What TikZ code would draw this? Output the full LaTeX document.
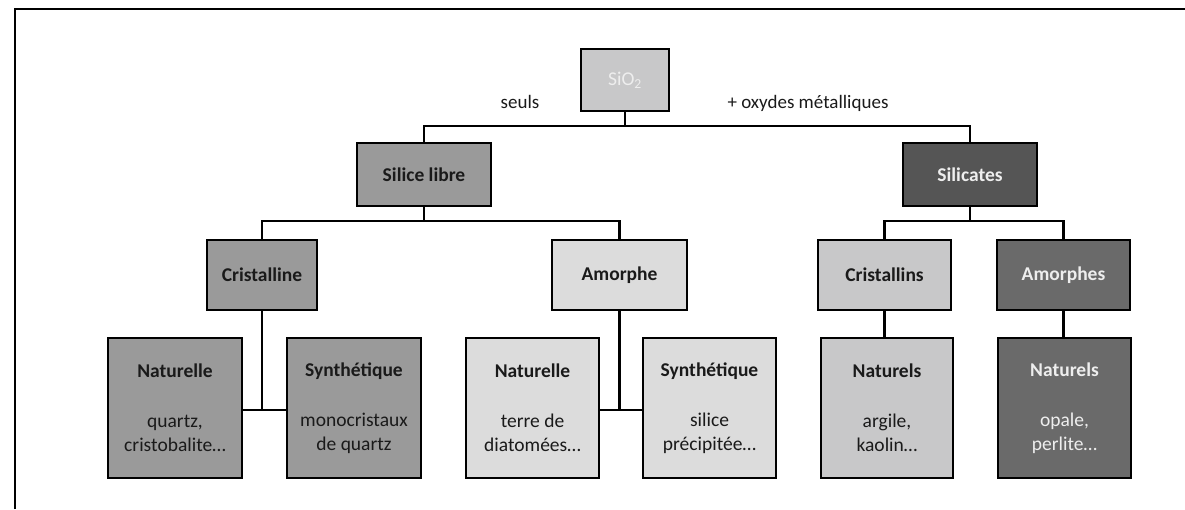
\documentclass[tikz,border=0pt]{standalone}
\usepackage{fontspec}
\setmainfont{Carlito}
\definecolor{inkdark}{HTML}{1A1A1A}
\definecolor{inklight}{HTML}{EEEEEE}
\definecolor{greyA}{HTML}{C8C8C9}
\definecolor{greyB}{HTML}{9A9A9A}
\definecolor{greyC}{HTML}{555555}
\definecolor{greyD}{HTML}{DCDCDC}
\definecolor{greyE}{HTML}{6A6A6A}
\tikzset{
  box/.style={draw=black, line width=2pt, rectangle, inner sep=0pt, align=center,
    text=inkdark, font=\fontsize{19.5}{24}\selectfont},
  top/.style={box, minimum width=134pt, minimum height=63pt},
  mid/.style={box, minimum width=134pt, minimum height=70pt},
  leaf/.style={box, minimum width=134pt, minimum height=140pt},
  link/.style={draw=black, line width=2.6pt},
  note/.style={text=inkdark, font=\fontsize{19}{24}\selectfont, inner sep=0pt, anchor=base},
}
\begin{document}
\begin{tikzpicture}[x=1pt, y=-1pt]
\useasboundingbox (0,0) rectangle (1185,509);
% frame
\draw[line width=2.6pt] (15,509) -- (15,9) -- (1185,9);

% root
\node[box, fill=greyA, text=inklight, minimum width=88pt, minimum height=62pt] (sio) at (625,80) {SiO\textsubscript{2}};
\node[note] (seuls) at (520,108) {seuls};
\node[note] (oxy) at (808,108) {+ oxydes métalliques};

% first level
\node[top, fill=greyB] (libre) at (424,174.5) {\textbf{Silice libre}};
\node[top, fill=greyC, text=inklight] (silicates) at (970,174.5) {\textbf{Silicates}};

% second level
\node[mid, fill=greyB, minimum width=110pt] (cristalline) at (262,275) {\textbf{Cristalline}};
\node[mid, fill=greyD, minimum width=135pt] (amorphe) at (619.5,275) {\textbf{Amorphe}};
\node[mid, fill=greyA, minimum width=133pt] (cristallins) at (884.5,275) {\textbf{Cristallins}};
\node[mid, fill=greyE, minimum width=133pt, text=inklight] (amorphes) at (1063.5,275) {\textbf{Amorphes}};

% leaves
\node[leaf, fill=greyB] (nat1) at (175,408) {\textbf{Naturelle}\\[26pt]quartz,\\cristobalite…};
\node[leaf, fill=greyB] (syn1) at (354,408) {\textbf{Synthétique}\\[26pt]monocristaux\\de quartz};
\node[leaf, fill=greyD, minimum width=133pt] (nat2) at (532.5,408) {\textbf{Naturelle}\\[26pt]terre de\\diatomées…};
\node[leaf, fill=greyD, minimum width=133pt] (syn2) at (709.5,408) {\textbf{Synthétique}\\[26pt]silice\\précipitée…};
\node[leaf, fill=greyA, minimum width=132pt] (nat3) at (887,408) {\textbf{Naturels}\\[26pt]argile,\\kaolin…};
\node[leaf, fill=greyE, minimum width=133pt, text=inklight] (nat4) at (1064.5,408) {\textbf{Naturels}\\[26pt]opale,\\perlite…};

% junction points
\coordinate (j0) at (625,126);
\coordinate (j1) at (424,221);
\coordinate (j2) at (970,221);
\coordinate (j3) at (262,410);
\coordinate (j4) at (619.5,410);

% connectors
\draw[link] (sio.south) -- (j0);
\draw[link] (libre.north) |- (j0) -| (silicates.north);
\draw[link] (libre.south) -- (j1);
\draw[link] (cristalline.north) |- (j1) -| (amorphe.north);
\draw[link] (silicates.south) -- (j2);
\draw[link] (cristallins.north) |- (j2) -| (amorphes.north);
\draw[link] (cristalline.south) -- (j3);
\draw[link] (nat1.east |- j3) -- (syn1.west |- j3);
\draw[link] (amorphe.south) -- (j4);
\draw[link] (nat2.east |- j4) -- (syn2.west |- j4);
\draw[link] (cristallins.south) -- (cristallins.south |- nat3.north);
\draw[link] (amorphes.south) -- (amorphes.south |- nat4.north);
\end{tikzpicture}
\end{document}
